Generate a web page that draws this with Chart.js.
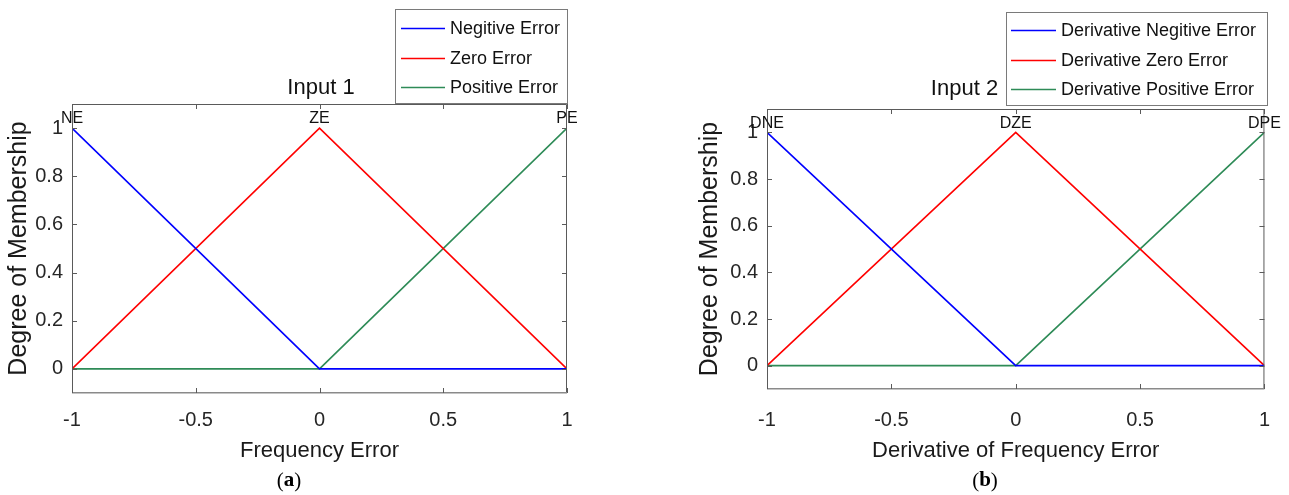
<!DOCTYPE html>
<html>
<head>
<meta charset="utf-8">
<script src="https://cdn.jsdelivr.net/npm/chart.js@4/dist/chart.umd.min.js"></script>
<style>
  html, body { margin: 0; padding: 0; background: #ffffff; }
  #wrap { position: relative; width: 1289px; height: 495px; overflow: hidden; }
  .panel { position: absolute; top: 0; height: 495px; }
</style>
</head>
<body>
<div id="wrap">
  <div class="panel" style="left:0;width:644px;"><canvas id="c1" width="644" height="495"></canvas></div>
  <div class="panel" style="left:644px;width:645px;"><canvas id="c2" width="645" height="495"></canvas></div>
</div>
<script>
// ---- data ----
const membershipX = [-1, 0, 1];
const negitiveValues = [1, 0, 0];
const zeroValues = [0, 1, 0];
const positiveValues = [0, 0, 1];
const input1Labels = ['Negitive Error', 'Zero Error', 'Positive Error'];
const input2Labels = ['Derivative Negitive Error', 'Derivative Zero Error', 'Derivative Positive Error'];
const input1Terms = ['NE', 'ZE', 'PE'];
const input2Terms = ['DNE', 'DZE', 'DPE'];
const xTickValues = [-1, -0.5, 0, 0.5, 1];
const yTickValues = [0, 0.2, 0.4, 0.6, 0.8, 1];
const seriesColors = ['#0000ff', '#ff0000', '#2e8b57'];

const FONT = '"Liberation Sans", Arial, Helvetica, sans-serif';
const SERIF = '"Liberation Serif", "Times New Roman", serif';

function makeDatasets(labels) {
  const series = [negitiveValues, zeroValues, positiveValues];
  return series.map((vals, i) => ({
    label: labels[i],
    data: membershipX.map((xv, j) => ({ x: xv, y: vals[j] })),
    borderColor: seriesColors[i],
    backgroundColor: seriesColors[i],
    borderWidth: 1.6,
    pointRadius: 0,
    tension: 0,
    fill: false
  }));
}

function makeDecor(cfg) {
  return {
    id: 'decor',
    afterDraw(chart) {
      const { ctx, chartArea: a, scales: { x, y } } = chart;
      ctx.save();
      // frame
      ctx.lineWidth = 1;
      ctx.strokeStyle = '#5a5a5a';
      ctx.beginPath();
      ctx.moveTo(a.left + 0.5, a.bottom);
      ctx.lineTo(a.left + 0.5, a.top + 0.5);
      ctx.lineTo(a.right - 0.5, a.top + 0.5);
      ctx.lineTo(a.right - 0.5, a.bottom);
      ctx.stroke();
      ctx.strokeStyle = '#8a8a8a';
      ctx.lineWidth = 1.5;
      ctx.beginPath();
      ctx.moveTo(a.left, a.bottom - 0.25);
      ctx.lineTo(a.right, a.bottom - 0.25);
      ctx.stroke();
      // inside ticks
      ctx.lineWidth = 1;
      ctx.strokeStyle = '#5a5a5a';
      const tl = 5;
      ctx.beginPath();
      x.ticks.forEach(t => {
        const px = Math.round(x.getPixelForValue(t.value)) + 0.5;
        ctx.moveTo(px, a.top); ctx.lineTo(px, a.top + tl);
        ctx.moveTo(px, a.bottom); ctx.lineTo(px, a.bottom - tl);
      });
      y.ticks.forEach(t => {
        const py = Math.round(y.getPixelForValue(t.value)) + 0.5;
        ctx.moveTo(a.left, py); ctx.lineTo(a.left + tl, py);
        ctx.moveTo(a.right, py); ctx.lineTo(a.right - tl, py);
      });
      ctx.stroke();
      // term labels at peaks
      ctx.fillStyle = '#111';
      ctx.font = '16px ' + FONT;
      ctx.textAlign = 'center';
      ctx.textBaseline = 'alphabetic';
      chart.data.datasets.forEach((ds, i) => {
        let peak = ds.data[0];
        ds.data.forEach(p => { if (p.y > peak.y) peak = p; });
        const px = x.getPixelForValue(peak.x);
        const py = y.getPixelForValue(peak.y);
        ctx.fillText(cfg.terms[i], px, py - cfg.termGap);
      });
      // title
      ctx.font = '22px ' + FONT;
      ctx.fillStyle = '#111';
      ctx.textAlign = 'center';
      ctx.textBaseline = 'middle';
      ctx.fillText(cfg.title.text, cfg.title.x, cfg.title.y);
      // legend
      const L = cfg.legend;
      ctx.fillStyle = '#ffffff';
      ctx.fillRect(L.x, L.y, L.w, L.h);
      ctx.strokeStyle = '#7a7a7a';
      ctx.lineWidth = 1;
      ctx.strokeRect(L.x + 0.5, L.y + 0.5, L.w, L.h);
      ctx.font = '18px ' + FONT;
      ctx.textAlign = 'left';
      ctx.textBaseline = 'middle';
      chart.data.datasets.forEach((ds, i) => {
        const ry = L.rows[i] + 0.5;
        ctx.strokeStyle = ds.borderColor;
        ctx.lineWidth = 1.6;
        ctx.beginPath();
        ctx.moveTo(L.x1, ry); ctx.lineTo(L.x2, ry);
        ctx.stroke();
        ctx.fillStyle = '#111';
        ctx.fillText(ds.label, L.tx, L.rows[i] + 1);
      });
      // caption "(a)" with bold letter
      const C = cfg.caption;
      ctx.textBaseline = 'middle';
      ctx.textAlign = 'left';
      ctx.font = '21px ' + SERIF;
      const wOpen = ctx.measureText('(').width;
      const wClose = ctx.measureText(')').width;
      ctx.font = 'bold 21px ' + SERIF;
      const wMid = ctx.measureText(C.letter).width;
      let cx = C.x - (wOpen + wMid + wClose) / 2;
      ctx.fillStyle = '#000';
      ctx.font = '21px ' + SERIF;
      ctx.fillText('(', cx, C.y); cx += wOpen;
      ctx.font = 'bold 21px ' + SERIF;
      ctx.fillText(C.letter, cx, C.y); cx += wMid;
      ctx.font = '21px ' + SERIF;
      ctx.fillText(')', cx, C.y);
      ctx.restore();
    }
  };
}

function makeChart(canvasId, labels, xTitle, layout, cfg) {
  const ctx = document.getElementById(canvasId).getContext('2d');
  return new Chart(ctx, {
    type: 'line',
    data: { datasets: makeDatasets(labels) },
    options: {
      responsive: false,
      animation: false,
      devicePixelRatio: 1,
      layout: { padding: layout.padding },
      plugins: { legend: { display: false }, tooltip: { enabled: false }, title: { display: false } },
      scales: {
        x: {
          type: 'linear',
          min: -1, max: 1,
          afterBuildTicks: s => { s.ticks = xTickValues.map(v => ({ value: v })); },
          afterFit: s => { s.height = layout.xHeight; },
          grid: { display: false, drawTicks: false },
          border: { display: false },
          ticks: {
            padding: layout.xTickPad,
            color: '#262626',
            font: { family: FONT, size: 20 },
            maxRotation: 0,
            callback: v => String(v)
          },
          title: {
            display: true, text: xTitle, color: '#1a1a1a',
            font: { family: FONT, size: 22 },
            padding: { top: 0, bottom: 31 }
          }
        },
        y: {
          type: 'linear',
          min: -0.1, max: 1.1,
          afterBuildTicks: s => { s.ticks = yTickValues.map(v => ({ value: v })); },
          afterFit: s => { s.width = layout.yWidth; },
          grid: { display: false, drawTicks: false },
          border: { display: false },
          ticks: {
            padding: 9,
            color: '#262626',
            font: { family: FONT, size: 20 },
            callback: v => String(v)
          },
          title: {
            display: true, text: 'Degree of Membership', color: '#1a1a1a',
            font: { family: FONT, size: 25 },
            padding: { top: 4, bottom: 0 }
          }
        }
      }
    },
    plugins: [makeDecor(cfg)]
  });
}

makeChart('c1', input1Labels, 'Frequency Error',
  { padding: { left: 0, top: 104, right: 77, bottom: 0 }, yWidth: 72, xHeight: 102, xTickPad: 15 },
  {
    terms: input1Terms, termGap: 5,
    title: { text: 'Input 1', x: 321, y: 88 },
    legend: { x: 395, y: 9, w: 172, h: 94, rows: [28, 58, 87], x1: 401, x2: 445, tx: 450 },
    caption: { letter: 'a', x: 289, y: 481 }
  });

makeChart('c2', input2Labels, 'Derivative of Frequency Error',
  { padding: { left: 47, top: 109, right: 22, bottom: 0 }, yWidth: 76, xHeight: 106, xTickPad: 19 },
  {
    terms: input2Terms, termGap: 4,
    title: { text: 'Input 2', x: 320.5, y: 89 },
    legend: { x: 362, y: 12, w: 261, h: 93, rows: [30, 60, 89], x1: 367, x2: 412, tx: 417 },
    caption: { letter: 'b', x: 341, y: 481 }
  });
</script>
</body>
</html>
